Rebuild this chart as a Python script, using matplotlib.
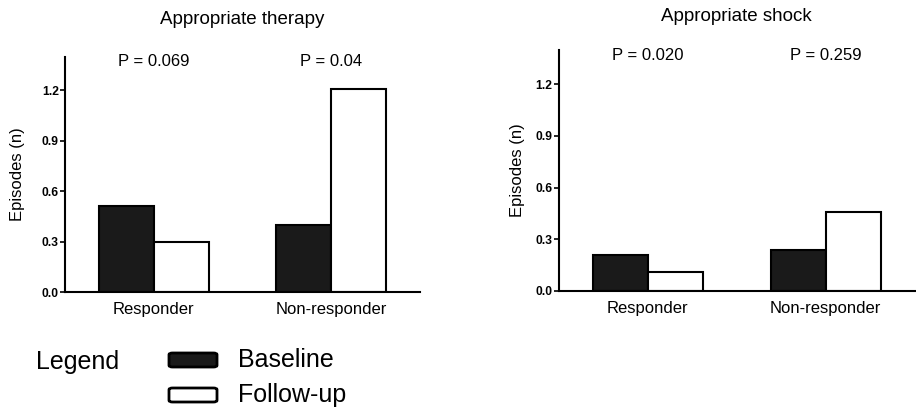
import matplotlib
matplotlib.use("Agg")
import matplotlib.pyplot as plt
import numpy as np
from matplotlib.patches import FancyBboxPatch

plt.rcParams['font.family'] = ['Liberation Sans', 'DejaVu Sans']

groups = ['Responder', 'Non-responder']
therapy_baseline = [0.51, 0.40]
therapy_followup = [0.30, 1.21]
therapy_p = ['P = 0.069', 'P = 0.04']
shock_baseline = [0.21, 0.24]
shock_followup = [0.11, 0.46]
shock_p = ['P = 0.020', 'P = 0.259']
yticks = [0.0, 0.3, 0.6, 0.9, 1.2]

fig = plt.figure(figsize=(9.16, 4.09), dpi=100)
ax1 = fig.add_axes([0.071, 0.286, 0.3876, 0.575])
ax2 = fig.add_axes([0.610, 0.289, 0.3886, 0.589])

w = 0.31


def draw_panel(ax, title, base, follow, plabels, title_y, ylab_x):
    x = np.arange(len(groups))
    ax.bar(x - w / 2, base, w, color='#1a1a1a', edgecolor='black', linewidth=1.5)
    ax.bar(x + w / 2, follow, w, color='white', edgecolor='black', linewidth=1.5)
    ax.set_xlim(-0.5, 1.5)
    ax.set_ylim(0, 1.40)
    ax.set_yticks(yticks)
    ax.set_yticklabels(['%.1f' % t for t in yticks], fontsize=8.7, fontweight='bold')
    ax.set_xticks(x)
    ax.set_xticklabels(groups, fontsize=12)
    ax.tick_params(axis='x', length=0, pad=7)
    ax.tick_params(axis='y', length=3.5, width=1.2, pad=1)
    for s in ['top', 'right']:
        ax.spines[s].set_visible(False)
    for s in ['left', 'bottom']:
        ax.spines[s].set_linewidth(1.5)
    ax.set_ylabel('Episodes (n)', fontsize=12)
    ax.yaxis.set_label_coords(ylab_x, 0.5)
    for xi, p in zip(x, plabels):
        ax.text(xi, 1.37, p, ha='center', va='center', fontsize=12)
    ax.text(0.5, title_y, title, transform=ax.transAxes, ha='center',
            va='center', fontsize=13.5)


draw_panel(ax1, 'Appropriate therapy', therapy_baseline, therapy_followup,
           therapy_p, 1.157, -0.113)
draw_panel(ax2, 'Appropriate shock', shock_baseline, shock_followup,
           shock_p, 1.137, -0.096)

# legend block under the left panel
W, H = 916.0, 409.0
fig.text(36 / W, 1 - 362 / H, 'Legend', fontsize=18, va='center', ha='left')
for ypix, fc, lab in [(360, '#1a1a1a', 'Baseline'), (395, 'white', 'Follow-up')]:
    box = FancyBboxPatch((169 / W, 1 - (ypix + 7) / H), 48 / W, 14 / H,
                         boxstyle='round,pad=0,rounding_size=0.004',
                         transform=fig.transFigure, facecolor=fc,
                         edgecolor='black', linewidth=2)
    fig.patches.append(box)
    fig.text(238 / W, 1 - ypix / H, lab, fontsize=18, va='center', ha='left')

fig.savefig('out.png', dpi=100)
